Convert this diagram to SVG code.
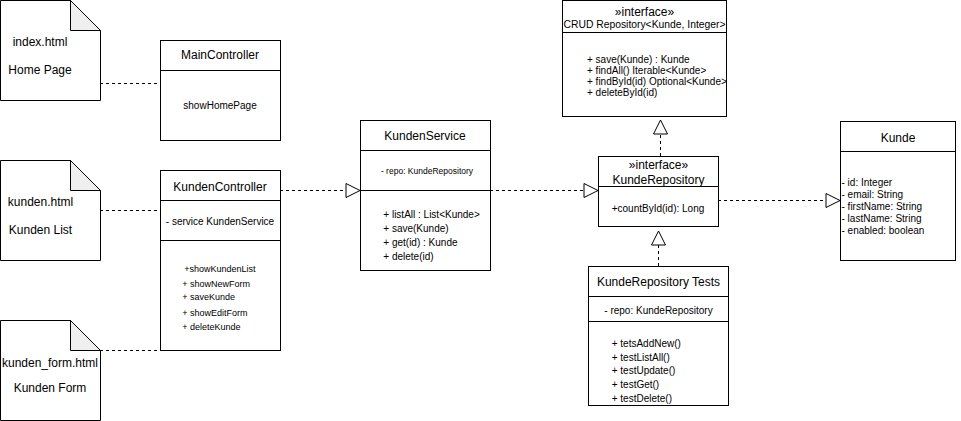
<svg xmlns="http://www.w3.org/2000/svg" width="961" height="421" viewBox="0 0 961 421">
  <style>
    .box { fill: #ffffff; stroke: #000000; stroke-width: 1; }
    .sep { stroke: #000000; stroke-width: 1; fill: none; }
    .fold { fill: #efefef; stroke: #000000; stroke-width: 1; }
    .dash { stroke: #000000; stroke-width: 1; fill: none; stroke-dasharray: 3 3; }
    .head { fill: #ffffff; stroke: #000000; stroke-width: 1; }
    text { font-family: "Liberation Sans", Arial, Helvetica, sans-serif; fill: #000000; }
    .t12 { font-size: 12px; }
    .t11 { font-size: 11px; }
    .t10 { font-size: 10px; }
    .t9 { font-size: 9px; }
    .t85 { font-size: 8.5px; }
    .c { text-anchor: middle; }
  </style>
  <rect x="0" y="0" width="961" height="421" fill="#ffffff"/>

  <!-- connectors -->
  <g id="connectors">
    <line class="dash" x1="100" y1="83.5" x2="160" y2="83.5"/>
    <line class="dash" x1="100" y1="210.5" x2="160" y2="210.5"/>
    <line class="dash" x1="100" y1="350.5" x2="160" y2="350.5"/>
    <!-- KundenController -> KundenService -->
    <line class="dash" x1="280" y1="190.5" x2="346" y2="190.5"/>
    <polygon class="head" points="346,183.5 360,190.5 346,197.5"/>
    <!-- KundenService -> KundeRepository -->
    <line class="dash" x1="490" y1="190.5" x2="584" y2="190.5"/>
    <polygon class="head" points="584,183.5 598,190.5 584,197.5"/>
    <!-- KundeRepository -> Kunde -->
    <line class="dash" x1="718" y1="200.5" x2="826" y2="200.5"/>
    <polygon class="head" points="826,193.5 840,200.5 826,207.5"/>
    <!-- KundeRepository -> CRUD Repository -->
    <line class="dash" x1="660.5" y1="156" x2="660.5" y2="134"/>
    <polygon class="head" points="653.5,134 660.5,120 667.5,134"/>
    <!-- KundeRepository Tests -> KundeRepository -->
    <line class="dash" x1="658.5" y1="266" x2="658.5" y2="245"/>
    <polygon class="head" points="651.5,245 658.5,231 665.5,245"/>
  </g>

  <!-- index.html page -->
  <g id="index-html">
    <path class="box" d="M0.5,0.5 H70.5 L100.5,30.5 V100.5 H0.5 Z"/>
    <path class="fold" d="M70.5,0.5 V30.5 H100.5 Z"/>
    <text class="t12 c" x="40" y="46">index.html</text>
    <text class="t12 c" x="40" y="74">Home Page</text>
  </g>

  <!-- kunden.html page -->
  <g id="kunden-html">
    <path class="box" d="M0.5,160.5 H70.5 L100.5,190.5 V260.5 H0.5 Z"/>
    <path class="fold" d="M70.5,160.5 V190.5 H100.5 Z"/>
    <text class="t12 c" x="40.5" y="206">kunden.html</text>
    <text class="t12 c" x="40.5" y="234">Kunden List</text>
  </g>

  <!-- kunden_form.html page -->
  <g id="kunden-form-html">
    <path class="box" d="M0.5,320.5 H70.5 L100.5,350.5 V420.5 H0.5 Z"/>
    <path class="fold" d="M70.5,320.5 V350.5 H100.5 Z"/>
    <text class="t12 c" x="50" y="367">kunden_form.html</text>
    <text class="t12 c" x="50" y="392">Kunden Form</text>
  </g>

  <!-- MainController -->
  <g id="main-controller">
    <rect class="box" x="160.5" y="40.5" width="120" height="100"/>
    <line class="sep" x1="160.5" y1="70.5" x2="280.5" y2="70.5"/>
    <text class="t12 c" x="220" y="59">MainController</text>
    <text class="t10 c" x="220" y="108.5">showHomePage</text>
  </g>

  <!-- KundenController -->
  <g id="kunden-controller">
    <rect class="box" x="160.5" y="170.5" width="120" height="180"/>
    <line class="sep" x1="160.5" y1="200.5" x2="280.5" y2="200.5"/>
    <line class="sep" x1="160.5" y1="240.5" x2="280.5" y2="240.5"/>
    <text class="t12 c" x="220" y="191">KundenController</text>
    <text class="t10 c" x="220" y="225.2">- service KundenService</text>
    <text class="t9" x="184.3" y="271.7">+showKundenList</text>
    <text class="t9" x="182.3" y="286.5">+ showNewForm</text>
    <text class="t9" x="182.3" y="300.2">+ saveKunde</text>
    <text class="t9" x="182.3" y="315.7">+ showEditForm</text>
    <text class="t9" x="182.3" y="329.7">+ deleteKunde</text>
  </g>

  <!-- KundenService -->
  <g id="kunden-service">
    <rect class="box" x="360.5" y="120.5" width="130" height="150"/>
    <line class="sep" x1="360.5" y1="150.5" x2="490.5" y2="150.5"/>
    <line class="sep" x1="360.5" y1="190.5" x2="490.5" y2="190.5"/>
    <text class="t12 c" x="425" y="140.2">KundenService</text>
    <text class="t85 c" x="427" y="173.7">- repo: KundeRepository</text>
    <text class="t10" x="383.3" y="217.5">+ listAll : List&lt;Kunde&gt;</text>
    <text class="t10" x="383.3" y="231.8">+ save(Kunde)</text>
    <text class="t10" x="383.3" y="246.2">+ get(id) : Kunde</text>
    <text class="t10" x="383.3" y="260.2">+ delete(id)</text>
  </g>

  <!-- CRUD Repository interface -->
  <g id="crud-repository">
    <rect class="box" x="562.5" y="0.5" width="164" height="116"/>
    <line class="sep" x1="562.5" y1="32.5" x2="726.5" y2="32.5"/>
    <text class="t12 c" x="644.5" y="16">»interface»</text>
    <text class="t11 c" x="644.5" y="28.2" textLength="162" lengthAdjust="spacingAndGlyphs">CRUD Repository&lt;Kunde, Integer&gt;</text>
    <text class="t10" x="587" y="62.5">+ save(Kunde) : Kunde</text>
    <text class="t10" x="587" y="73.8">+ findAll() Iterable&lt;Kunde&gt;</text>
    <text class="t10" x="587" y="85">+ findById(id) Optional&lt;Kunde&gt;</text>
    <text class="t10" x="587" y="96.3">+ deleteById(id)</text>
  </g>

  <!-- KundeRepository interface -->
  <g id="kunde-repository">
    <rect class="box" x="598.5" y="156.5" width="120" height="70"/>
    <line class="sep" x1="598.5" y1="186.5" x2="718.5" y2="186.5"/>
    <text class="t12 c" x="658.5" y="169.2">»interface»</text>
    <text class="t12 c" x="658.5" y="183.5">KundeRepository</text>
    <text class="t10 c" x="658" y="211.8">+countById(id): Long</text>
  </g>

  <!-- KundeRepository Tests -->
  <g id="kunde-repository-tests">
    <rect class="box" x="588.5" y="266.5" width="140" height="139"/>
    <line class="sep" x1="588.5" y1="296.5" x2="728.5" y2="296.5"/>
    <line class="sep" x1="588.5" y1="321.5" x2="728.5" y2="321.5"/>
    <text class="t12 c" x="658.5" y="286">KundeRepository Tests</text>
    <text class="t10 c" x="658.5" y="313.5">- repo: KundeRepository</text>
    <text class="t10" x="611.7" y="346.8">+ tetsAddNew()</text>
    <text class="t10" x="611.7" y="360.5">+ testListAll()</text>
    <text class="t10" x="611.7" y="374.2">+ testUpdate()</text>
    <text class="t10" x="611.7" y="387.9">+ testGet()</text>
    <text class="t10" x="611.7" y="401.5">+ testDelete()</text>
  </g>

  <!-- Kunde entity -->
  <g id="kunde">
    <rect class="box" x="840.5" y="121.5" width="115" height="139"/>
    <line class="sep" x1="840.5" y1="151.5" x2="955.5" y2="151.5"/>
    <text class="t12 c" x="898" y="141.5">Kunde</text>
    <text class="t10" x="841.5" y="185.5">- id: Integer</text>
    <text class="t10" x="841.5" y="197.5">- email: String</text>
    <text class="t10" x="841.5" y="209.5">- firstName: String</text>
    <text class="t10" x="841.5" y="221.5">- lastName: String</text>
    <text class="t10" x="841.5" y="233.5">- enabled: boolean</text>
  </g>
</svg>
